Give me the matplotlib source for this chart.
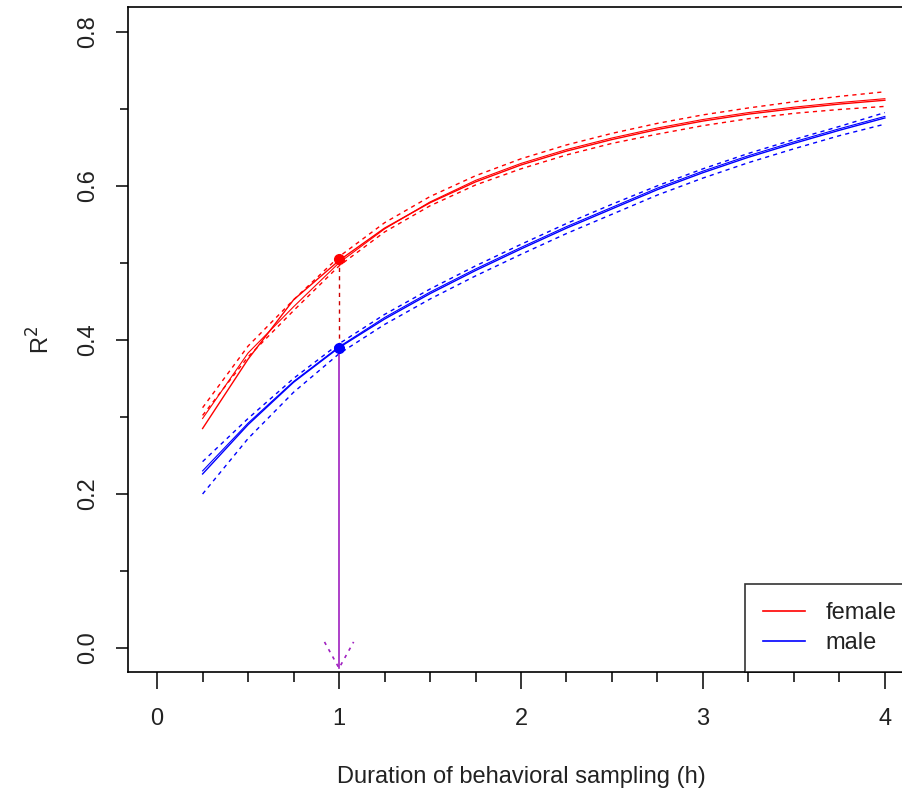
import numpy as np
import matplotlib
matplotlib.use("Agg")
import matplotlib.pyplot as plt
from matplotlib.lines import Line2D

plt.rcParams['font.family'] = ['Liberation Sans', 'DejaVu Sans']

# sampling durations (h)
hours = [0.25, 0.5, 0.75, 1.0, 1.25, 1.5, 1.75, 2.0, 2.25, 2.5, 2.75, 3.0, 3.25, 3.5, 3.75, 4.0]

# female R^2: observed, fitted, upper/lower bounds
female_obs = [0.285, 0.375, 0.452, 0.503, 0.545, 0.578, 0.605, 0.627, 0.645, 0.660, 0.673, 0.684, 0.693, 0.700, 0.706, 0.711]
female_fit = [0.298, 0.383, 0.443, 0.500, 0.544, 0.579, 0.607, 0.629, 0.647, 0.662, 0.675, 0.686, 0.695, 0.702, 0.708, 0.713]
female_hi = [0.312, 0.392, 0.452, 0.508, 0.552, 0.586, 0.613, 0.635, 0.653, 0.668, 0.681, 0.692, 0.701, 0.709, 0.716, 0.722]
female_lo = [0.302, 0.378, 0.438, 0.496, 0.540, 0.574, 0.601, 0.622, 0.640, 0.655, 0.667, 0.678, 0.687, 0.694, 0.699, 0.703]

# male R^2
male_obs = [0.226, 0.290, 0.345, 0.390, 0.427, 0.460, 0.490, 0.518, 0.545, 0.570, 0.595, 0.617, 0.637, 0.655, 0.672, 0.688]
male_fit = [0.230, 0.292, 0.346, 0.391, 0.429, 0.462, 0.492, 0.520, 0.547, 0.572, 0.597, 0.619, 0.639, 0.657, 0.674, 0.690]
male_hi = [0.242, 0.298, 0.350, 0.395, 0.433, 0.466, 0.496, 0.524, 0.551, 0.576, 0.600, 0.622, 0.642, 0.660, 0.677, 0.695]
male_lo = [0.200, 0.272, 0.332, 0.382, 0.420, 0.453, 0.483, 0.511, 0.538, 0.563, 0.588, 0.610, 0.630, 0.648, 0.665, 0.680]

# highlighted point at 1 h
mark_x = 1.0
female_mark = 0.505
male_mark = 0.390

W, H = 902, 790
fig = plt.figure(figsize=(W / 100, H / 100), dpi=100)
ax = fig.add_axes([128 / W, 1 - 672 / H, (914 - 128) / W, (672 - 7) / H])

red = '#FF0000'
blue = '#0000FF'
txt = '#222222'
dash = (0, (3, 3))

ax.plot(hours, female_obs, color=red, lw=1.0)
ax.plot(hours, female_fit, color=red, lw=0.8)
ax.plot(hours, female_hi, color=red, lw=1.0, linestyle=dash)
ax.plot(hours, female_lo, color=red, lw=1.0, linestyle=dash)

ax.plot(hours, male_obs, color=blue, lw=1.0)
ax.plot(hours, male_fit, color=blue, lw=0.8)
ax.plot(hours, male_hi, color=blue, lw=1.0, linestyle=dash)
ax.plot(hours, male_lo, color=blue, lw=1.0, linestyle=dash)

# connector and arrow
ax.plot([mark_x, mark_x], [female_mark, male_mark], color='#CC0000', lw=1.0, linestyle=dash)
ax.plot([mark_x, mark_x], [male_mark, -0.026], color='#A020C0', lw=1.2)
ax.plot([mark_x - 0.08, mark_x, mark_x + 0.08], [0.008, -0.026, 0.008],
        color='#A020C0', lw=1.2, linestyle=(0, (2, 3)))

ax.plot([mark_x], [female_mark], 'o', color=red, ms=7)
ax.plot([mark_x], [male_mark], 'o', color=blue, ms=7)

ax.set_xlim(-0.16, 4.16)
ax.set_ylim(-0.031, 0.832)

ax.set_xticks([0, 1, 2, 3, 4])
ax.set_xticks(np.arange(0.25, 4.0, 0.25), minor=True)
ax.set_yticks([0.0, 0.2, 0.4, 0.6, 0.8])
ax.set_yticklabels(['0.0', '0.2', '0.4', '0.6', '0.8'], rotation=90, va='center')
ax.set_yticks([0.1, 0.3, 0.5, 0.7], minor=True)
ax.tick_params(axis='x', which='major', length=12, width=1.1, labelsize=17, pad=14,
               colors='black', labelcolor=txt)
ax.tick_params(axis='x', which='minor', length=7, width=1.1)
ax.tick_params(axis='y', which='major', length=9, width=1.1, labelsize=17, pad=12,
               colors='black', labelcolor=txt)
ax.tick_params(axis='y', which='minor', length=6, width=1.1)
for s in ax.spines.values():
    s.set_linewidth(1.2)

ax.set_xlabel('Duration of behavioral sampling (h)', fontsize=17, labelpad=26, color=txt)
ax.set_ylabel(r'R$^2$', fontsize=17, labelpad=16, color=txt)

handles = [Line2D([], [], color=red, lw=1.2), Line2D([], [], color=blue, lw=1.2)]
leg = ax.legend(handles, ['female', 'male'], loc='lower right', fontsize=17,
                frameon=True, fancybox=False, borderaxespad=0, handlelength=1.8,
                borderpad=0.75, labelspacing=0.35, handletextpad=0.85)
leg.get_frame().set_edgecolor('black')
leg.get_frame().set_linewidth(1.2)
for t in leg.get_texts():
    t.set_color(txt)

fig.savefig('out.png', dpi=100)
